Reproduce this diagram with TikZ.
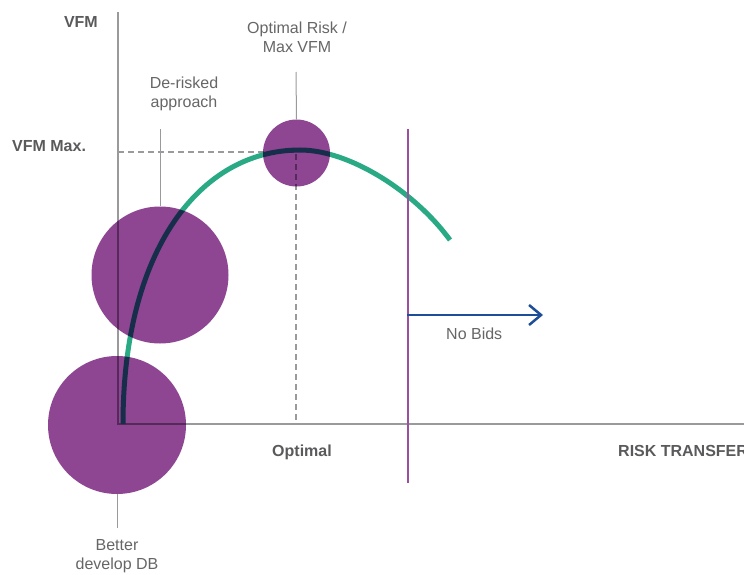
\documentclass[tikz,border=0pt]{standalone}
\usepackage{fontspec}
\setmainfont{Liberation Sans}
\usetikzlibrary{arrows.meta}
\definecolor{vpurple}{HTML}{8E4592}
\definecolor{lpurple}{HTML}{9B4F9E}
\definecolor{vgreen}{HTML}{2AAA84}
\definecolor{vblue}{HTML}{1F4E99}
\definecolor{axisgray}{HTML}{9A9A9C}
\definecolor{txtgray}{HTML}{5A5A5C}
\definecolor{lbgray}{HTML}{666666}
\tikzset{
  axisline/.style={draw=axisgray, line width=2.5pt},
  guide/.style={draw=axisgray, line width=1.2pt, dash pattern=on 6pt off 4pt},
  leader/.style={draw=axisgray, line width=1pt},
  curveline/.style={draw=vgreen, line width=5pt},
  bubble/.style={circle, fill=vpurple, inner sep=0pt, draw=none},
  lbl/.style={inner sep=0pt, text=lbgray, align=center, font=\fontsize{16}{19}\selectfont},
  blbl/.style={inner sep=0pt, text=txtgray, font=\fontsize{16}{19}\selectfont\bfseries},
  limit/.style={draw=lpurple, line width=2.5pt},
  bidarrow/.style={draw=vblue, line width=2.5pt, -{Straight Barb[length=12pt,width=20pt]}}
}
\begin{document}
\begin{tikzpicture}[x=1pt,y=-1pt]
\useasboundingbox (0,0) rectangle (744,575);
% axes
\coordinate (O) at (118,424);
\coordinate (ytop) at (118,12);
\coordinate (xend) at (744,424);
\draw[axisline] (ytop) -- (O) -- (xend);
% guides
\coordinate (gL) at (118,152);
\coordinate (gP) at (296,152);
\coordinate (gB) at (296,424);
\draw[guide] (gL) -- (gP) -- (gB);
% curve
\draw[curveline] (123,424) .. controls (123,250) and (200,150) .. (300,150)
  .. controls (350,150) and (415,192) .. (450,240);
% leader coordinates
\coordinate (l1) at (117,528);
\coordinate (l2) at (160,129);
\coordinate (l3) at (296,72);
% bubbles
\begin{scope}[blend mode=multiply]
\node[bubble, minimum size=138pt] (b1) at (117,425) {};
\node[bubble, minimum size=137pt] (b2) at (160,275) {};
\node[bubble, minimum size=67pt] (b3) at (296.5,153) {};
\end{scope}
\draw[leader] (b1.south) -- (l1);
\draw[leader] (b2.north) -- (l2);
\draw[leader] (b3.north) -- (l3);
% limit line and arrow
\coordinate (lt) at (408,129);
\coordinate (lb) at (408,483);
\draw[limit] (lt) -- (lb);
\coordinate (as) at (407,315);
\coordinate (ae) at (543,315);
\draw[bidarrow] (as) -- (ae);
% texts (base anchor = last line baseline)
\node[lbl, anchor=base] (tb1) at (117,569) {Better\\develop DB};
\node[lbl, anchor=base] (tb2) at (184,108) {De-risked\\approach};
\node[lbl, anchor=base] (tb3) at (297,53) {Optimal Risk /\\Max VFM};
\node[lbl, anchor=base west] (tnb) at (446,339) {No Bids};
\node[blbl, anchor=base east] (tvfm) at (98,28) {VFM};
\node[blbl, anchor=base west] (tvmax) at (12,151) {VFM Max.};
\node[blbl, anchor=base west] (topt) at (272,456) {Optimal};
\node[blbl, anchor=base west] (trt) at (618,456) {RISK TRANSFER};
\end{tikzpicture}
\end{document}
